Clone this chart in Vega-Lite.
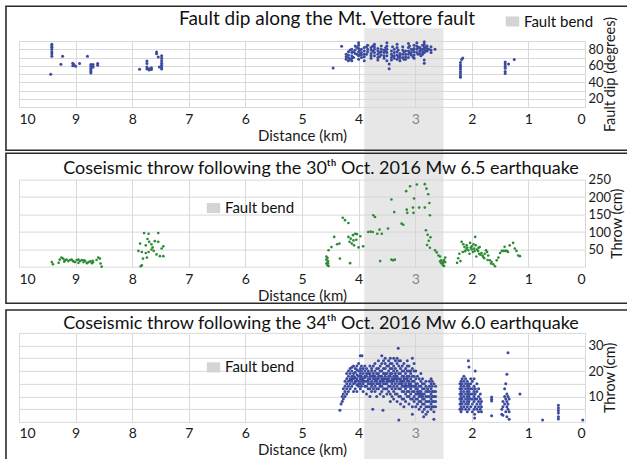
{
"$schema": "https://vega.github.io/schema/vega-lite/v6.json",
"padding": {"left": 5, "top": 5, "right": 0, "bottom": 0},
"autosize": {"type": "pad"},
"background": "white",
"config": {
  "font": "Lato",
  "view": {"stroke": null},
  "axis": {"grid": true, "gridColor": "#d9d9d9", "gridWidth": 1, "domain": false, "ticks": false, "tickSize": 0, "labelOverlap": false, "labelFont": "Lato", "labelFontSize": 14, "labelColor": "#1a1a1a", "titleFont": "Lato", "titleFontSize": 15, "titleFontWeight": "normal", "titleColor": "#1a1a1a"},
  "axisX": {"zindex": 1},
  "axisY": {"labelFontSize": 13, "titleFontSize": 14.5, "titleBaseline": "top", "titleAngle": 270, "titlePadding": 0, "labelPadding": 3},
  "title": {"font": "Lato", "fontSize": 18, "fontWeight": "normal", "color": "#111111", "frame": "group"},
  "legend": {"labelFont": "Lato", "labelFontSize": 15, "labelColor": "#111111", "symbolStrokeWidth": 0, "padding": 0, "symbolOpacity": 1}
},
"datasets": {
  "bend": [{"name": "Fault bend", "from": 3.9, "to": 2.5}],
  "dip": [
    {"d":9.42,"v":86},{"d":9.42,"v":84},{"d":9.42,"v":82.5},{"d":9.42,"v":80},{"d":9.42,"v":77},{"d":9.42,"v":74.5},{"d":9.42,"v":71.5},{"d":9.44,"v":49.6},
    {"d":9.23,"v":71.5},{"d":9.26,"v":61.8},{"d":9.05,"v":63},{"d":9.05,"v":60},{"d":9.03,"v":61.4},{"d":9.0,"v":59.5},{"d":8.93,"v":62.6},{"d":8.79,"v":71.5},
    {"d":8.73,"v":61.4},{"d":8.73,"v":59.3},{"d":8.73,"v":57},{"d":8.73,"v":55.3},{"d":8.73,"v":53},{"d":8.73,"v":51.2},{"d":8.69,"v":61.4},{"d":8.69,"v":58.5},{"d":8.61,"v":62.6},{"d":8.61,"v":60.5},
    {"d":7.87,"v":55.7},{"d":7.74,"v":65.8},{"d":7.74,"v":62.6},{"d":7.74,"v":58.5},{"d":7.74,"v":56},{"d":7.70,"v":56.5},{"d":7.70,"v":55},{"d":7.66,"v":57.5},{"d":7.66,"v":55.5},
    {"d":7.57,"v":76.7},{"d":7.57,"v":74.5},{"d":7.54,"v":70.6},{"d":7.48,"v":72},{"d":7.48,"v":69},{"d":7.48,"v":66},{"d":7.48,"v":63},{"d":7.48,"v":60.5},{"d":7.48,"v":58},{"d":7.48,"v":56},{"d":7.52,"v":58.5},
    {"d":4.45,"v":57.3},{"d":4.30,"v":83.6},{"d":4.22,"v":74},{"d":4.22,"v":71},{"d":4.22,"v":68},{"d":4.18,"v":77},{"d":4.18,"v":73},{"d":4.18,"v":70},{"d":4.18,"v":66},
    {"d":4.15,"v":79},{"d":4.15,"v":68},{"d":4.12,"v":80},{"d":4.12,"v":76},{"d":4.12,"v":72},{"d":4.12,"v":69},{"d":4.12,"v":66},{"d":4.09,"v":77},{"d":4.09,"v":70},
    {"d":4.06,"v":84},{"d":4.06,"v":79},{"d":4.06,"v":75},{"d":4.03,"v":82},{"d":4.03,"v":74},{"d":4.0,"v":88},{"d":4.0,"v":85},{"d":4.0,"v":81},{"d":4.0,"v":77},{"d":4.0,"v":72},{"d":4.0,"v":68},
    {"d":3.98,"v":79},{"d":3.98,"v":74},{"d":3.95,"v":80},{"d":3.95,"v":76},{"d":3.95,"v":73},{"d":3.95,"v":70},{"d":3.9,"v":82},{"d":3.9,"v":78},{"d":3.9,"v":74},{"d":3.9,"v":71},{"d":3.9,"v":66},
    {"d":3.86,"v":83},{"d":3.86,"v":74},{"d":3.84,"v":85},{"d":3.84,"v":80},{"d":3.84,"v":77},{"d":3.78,"v":82},{"d":3.78,"v":79},{"d":3.78,"v":75},{"d":3.78,"v":72},{"d":3.78,"v":69},
    {"d":3.75,"v":84},{"d":3.75,"v":78},{"d":3.72,"v":86},{"d":3.72,"v":83},{"d":3.72,"v":80},{"d":3.72,"v":76},{"d":3.72,"v":72},{"d":3.66,"v":81},{"d":3.66,"v":78},{"d":3.66,"v":74},{"d":3.66,"v":70},{"d":3.66,"v":67},
    {"d":3.63,"v":76},{"d":3.63,"v":71},{"d":3.6,"v":84},{"d":3.6,"v":80},{"d":3.6,"v":77},{"d":3.6,"v":73},{"d":3.55,"v":79},{"d":3.55,"v":76},{"d":3.55,"v":72},{"d":3.55,"v":69},
    {"d":3.52,"v":82},{"d":3.52,"v":78},{"d":3.5,"v":88},{"d":3.5,"v":84},{"d":3.5,"v":80},{"d":3.5,"v":76},{"d":3.5,"v":72},{"d":3.5,"v":66},{"d":3.46,"v":62},{"d":3.46,"v":56.5},
    {"d":3.42,"v":78},{"d":3.42,"v":74},{"d":3.42,"v":70},{"d":3.42,"v":67},{"d":3.4,"v":83},{"d":3.4,"v":72},{"d":3.37,"v":80},{"d":3.37,"v":76},{"d":3.37,"v":72},{"d":3.37,"v":69},
    {"d":3.32,"v":86},{"d":3.32,"v":82},{"d":3.32,"v":77},{"d":3.32,"v":73},{"d":3.32,"v":68},{"d":3.3,"v":79},{"d":3.3,"v":71},{"d":3.27,"v":75},{"d":3.27,"v":72},{"d":3.27,"v":69},{"d":3.27,"v":66},
    {"d":3.22,"v":83},{"d":3.22,"v":79},{"d":3.22,"v":74},{"d":3.22,"v":70},{"d":3.2,"v":77},{"d":3.2,"v":68},{"d":3.17,"v":78},{"d":3.17,"v":74},{"d":3.17,"v":71},{"d":3.17,"v":68},
    {"d":3.12,"v":87},{"d":3.12,"v":82},{"d":3.12,"v":78},{"d":3.12,"v":74},{"d":3.12,"v":70},{"d":3.1,"v":84},{"d":3.1,"v":76},{"d":3.07,"v":80},{"d":3.07,"v":76},{"d":3.07,"v":73},
    {"d":3.04,"v":79},{"d":3.04,"v":71},{"d":3.02,"v":85},{"d":3.02,"v":81},{"d":3.02,"v":77},{"d":3.02,"v":73},{"d":3.02,"v":69},{"d":2.97,"v":88},{"d":2.97,"v":84},{"d":2.97,"v":80},{"d":2.97,"v":76},
    {"d":2.95,"v":82},{"d":2.95,"v":74},{"d":2.92,"v":82},{"d":2.92,"v":78},{"d":2.92,"v":75},{"d":2.9,"v":80},{"d":2.9,"v":72},{"d":2.87,"v":85},{"d":2.87,"v":80},{"d":2.87,"v":77},{"d":2.87,"v":74},
    {"d":2.84,"v":89},{"d":2.84,"v":86},{"d":2.84,"v":83},{"d":2.84,"v":80},{"d":2.84,"v":76},{"d":2.84,"v":67},{"d":2.84,"v":63},{"d":2.82,"v":82},{"d":2.82,"v":78},
    {"d":2.79,"v":84},{"d":2.79,"v":81},{"d":2.79,"v":78},{"d":2.76,"v":80},{"d":2.72,"v":83},{"d":2.72,"v":79},{"d":2.72,"v":76},{"d":2.65,"v":80},
    {"d":2.16,"v":69.4},{"d":2.18,"v":67.5},{"d":2.20,"v":64},{"d":2.20,"v":61},{"d":2.20,"v":58.5},{"d":2.20,"v":56},{"d":2.20,"v":53},{"d":2.20,"v":50.5},{"d":2.20,"v":48},{"d":2.20,"v":46},
    {"d":1.41,"v":64.5},{"d":1.41,"v":62},{"d":1.41,"v":59.5},{"d":1.41,"v":57},{"d":1.41,"v":53},{"d":1.41,"v":50.5},{"d":1.35,"v":62},{"d":1.25,"v":67.5}
  ],
  "throw30": [
    {"d":9.42,"v":14},{"d":9.40,"v":8},{"d":9.28,"v":21},{"d":9.25,"v":27},{"d":9.22,"v":24},{"d":9.19,"v":19},{"d":9.16,"v":21},{"d":9.13,"v":17},{"d":9.10,"v":20},{"d":9.07,"v":21},
    {"d":9.04,"v":16},{"d":9.01,"v":14},{"d":8.98,"v":20},{"d":8.95,"v":21},{"d":8.92,"v":17},{"d":8.89,"v":20},{"d":8.86,"v":14},{"d":8.83,"v":17},{"d":8.80,"v":11},{"d":8.77,"v":14},
    {"d":8.74,"v":16},{"d":8.71,"v":11},{"d":8.69,"v":14},{"d":8.63,"v":20},{"d":8.60,"v":27},{"d":8.57,"v":24},{"d":8.56,"v":10},{"d":8.54,"v":1},{"d":9.30,"v":12},{"d":9.20,"v":15},
    {"d":9.05,"v":18},{"d":8.95,"v":12},{"d":8.85,"v":19},{"d":8.70,"v":18},
    {"d":7.79,"v":97},{"d":7.71,"v":95},{"d":7.54,"v":97},{"d":7.86,"v":67},{"d":7.76,"v":62},{"d":7.70,"v":72},{"d":7.66,"v":65},{"d":7.60,"v":74},{"d":7.54,"v":72},{"d":7.48,"v":53},
    {"d":7.45,"v":59},{"d":7.89,"v":46},{"d":7.83,"v":43},{"d":7.76,"v":40},{"d":7.71,"v":43},{"d":7.66,"v":50},{"d":7.62,"v":46},{"d":7.57,"v":36},{"d":7.51,"v":31},{"d":7.45,"v":31},
    {"d":7.81,"v":24},{"d":7.74,"v":27},{"d":7.83,"v":5},{"d":7.85,"v":2},{"d":7.73,"v":80},{"d":7.64,"v":56},
    {"d":4.57,"v":30},{"d":4.57,"v":21},{"d":4.57,"v":10},{"d":4.55,"v":13},{"d":4.55,"v":5},{"d":4.55,"v":26},{"d":4.54,"v":10},{"d":4.54,"v":17},{"d":4.53,"v":48},{"d":4.53,"v":3},
    {"d":4.48,"v":57},{"d":4.43,"v":86},{"d":4.38,"v":65},{"d":4.34,"v":67},{"d":4.33,"v":24},{"d":4.28,"v":141},{"d":4.24,"v":134},{"d":4.18,"v":126},{"d":4.15,"v":11},{"d":4.18,"v":86},
    {"d":4.14,"v":81},{"d":4.10,"v":91},{"d":4.06,"v":95},{"d":4.03,"v":94},{"d":4.16,"v":72},{"d":4.09,"v":76},{"d":4.04,"v":78},{"d":4.12,"v":67},{"d":4.08,"v":62},{"d":3.97,"v":88},
    {"d":3.92,"v":59},{"d":4.00,"v":56},{"d":3.83,"v":100},{"d":3.79,"v":101},{"d":3.75,"v":100},{"d":3.74,"v":148},{"d":3.71,"v":143},{"d":3.67,"v":95},{"d":3.63,"v":107},{"d":3.59,"v":95},
    {"d":3.48,"v":110},{"d":3.42,"v":193},{"d":3.42,"v":21},{"d":3.39,"v":19},{"d":3.36,"v":21},{"d":3.62,"v":17},{"d":3.37,"v":157},{"d":3.24,"v":124},{"d":3.21,"v":121},{"d":3.16,"v":217},
    {"d":3.15,"v":164},{"d":3.14,"v":155},{"d":3.09,"v":231},{"d":3.04,"v":170},{"d":3.03,"v":155},{"d":3.02,"v":196},{"d":2.97,"v":236},{"d":2.93,"v":170},{"d":2.83,"v":237},{"d":2.83,"v":170},
    {"d":2.80,"v":224},{"d":2.77,"v":208},{"d":2.75,"v":183},{"d":2.74,"v":148},{"d":2.81,"v":105},{"d":2.78,"v":92},{"d":2.73,"v":85},{"d":2.76,"v":75},{"d":2.79,"v":63},{"d":2.74,"v":55},
    {"d":2.65,"v":48},{"d":2.62,"v":42},{"d":2.59,"v":33},{"d":2.56,"v":30},{"d":2.56,"v":16},{"d":2.54,"v":19},{"d":2.54,"v":11},{"d":2.51,"v":14},{"d":2.51,"v":10},{"d":2.51,"v":5},
    {"d":2.49,"v":20},{"d":2.49,"v":3},{"d":2.47,"v":27},{"d":2.47,"v":14},
    {"d":2.22,"v":38},{"d":2.20,"v":17},{"d":2.18,"v":72},{"d":2.16,"v":43},{"d":2.15,"v":65},{"d":2.13,"v":57},{"d":2.10,"v":50},{"d":2.09,"v":62},{"d":2.06,"v":48},{"d":2.03,"v":69},
    {"d":2.02,"v":55},{"d":2.00,"v":59},{"d":1.98,"v":43},{"d":1.96,"v":53},{"d":1.94,"v":86},{"d":1.93,"v":62},{"d":1.91,"v":50},{"d":1.89,"v":46},{"d":1.87,"v":38},{"d":1.86,"v":57},
    {"d":1.83,"v":40},{"d":1.81,"v":33},{"d":1.80,"v":29},{"d":1.77,"v":38},{"d":1.75,"v":48},{"d":1.73,"v":43},{"d":1.71,"v":33},{"d":1.68,"v":19},{"d":1.65,"v":14},{"d":1.62,"v":8},
    {"d":1.59,"v":2},{"d":1.56,"v":19},{"d":1.53,"v":27},{"d":1.50,"v":40},{"d":1.47,"v":46},{"d":1.44,"v":46},{"d":1.41,"v":46},{"d":1.38,"v":46},{"d":1.36,"v":43},{"d":1.33,"v":62},
    {"d":1.42,"v":58},{"d":1.27,"v":69},{"d":1.24,"v":53},{"d":1.21,"v":46},{"d":1.18,"v":33},{"d":1.15,"v":31},
    {"d":2.12,"v":45},{"d":2.08,"v":55},{"d":2.04,"v":38},{"d":2.00,"v":50},{"d":1.97,"v":65},{"d":1.95,"v":46},{"d":1.92,"v":30},{"d":1.88,"v":55},{"d":1.85,"v":35},{"d":1.78,"v":25},
    {"d":1.72,"v":20},{"d":1.66,"v":10},{"d":2.24,"v":25},{"d":2.26,"v":12}
  ],
  "throw24": [
    {"d":4.33,"v":4.6},{"d":4.31,"v":7},{"d":4.29,"v":8},{"d":4.29,"v":10},{"d":4.27,"v":9},{"d":4.27,"v":11},{"d":4.27,"v":13},
    {"d":4.24,"v":10},{"d":4.24,"v":12},{"d":4.24,"v":14},{"d":4.24,"v":16},
    {"d":4.21,"v":11},{"d":4.21,"v":13},{"d":4.21,"v":15},{"d":4.21,"v":17},{"d":4.21,"v":19},
    {"d":4.18,"v":12},{"d":4.18,"v":14},{"d":4.18,"v":16},{"d":4.18,"v":18},{"d":4.18,"v":20},
    {"d":4.15,"v":13},{"d":4.15,"v":15},{"d":4.15,"v":17},{"d":4.15,"v":19},{"d":4.15,"v":21},{"d":4.15,"v":16.5},
    {"d":4.12,"v":14},{"d":4.12,"v":16},{"d":4.12,"v":18},{"d":4.12,"v":20},{"d":4.12,"v":21.5},{"d":4.12,"v":17},
    {"d":4.09,"v":12},{"d":4.09,"v":15},{"d":4.09,"v":17},{"d":4.09,"v":19},{"d":4.09,"v":22},{"d":4.09,"v":18},
    {"d":4.06,"v":13},{"d":4.06,"v":15.5},{"d":4.06,"v":17.5},{"d":4.06,"v":19.5},{"d":4.06,"v":21},{"d":4.06,"v":16},
    {"d":4.03,"v":12},{"d":4.03,"v":14.5},{"d":4.03,"v":16.5},{"d":4.03,"v":18.5},{"d":4.03,"v":20.5},{"d":4.03,"v":22},{"d":4.03,"v":17},
    {"d":4.00,"v":14},{"d":4.00,"v":16},{"d":4.00,"v":18},{"d":4.00,"v":20},{"d":4.00,"v":23},{"d":4.00,"v":15},
    {"d":3.97,"v":13},{"d":3.97,"v":15},{"d":3.97,"v":17},{"d":3.97,"v":19},{"d":3.97,"v":21},{"d":3.97,"v":26},{"d":3.97,"v":18},
    {"d":3.95,"v":14},{"d":3.95,"v":16},{"d":3.95,"v":18},{"d":3.95,"v":20},{"d":3.95,"v":22},{"d":3.94,"v":26},{"d":3.95,"v":17},
    {"d":3.92,"v":12},{"d":3.92,"v":15},{"d":3.92,"v":17},{"d":3.92,"v":19},{"d":3.92,"v":21},{"d":3.92,"v":16},
    {"d":3.89,"v":14},{"d":3.89,"v":16},{"d":3.89,"v":18},{"d":3.89,"v":20},{"d":3.89,"v":22},{"d":3.89,"v":17.5},
    {"d":3.86,"v":11},{"d":3.86,"v":14},{"d":3.86,"v":16},{"d":3.86,"v":18},{"d":3.86,"v":21},{"d":3.86,"v":19},
    {"d":3.83,"v":13},{"d":3.83,"v":15},{"d":3.83,"v":17},{"d":3.83,"v":19},{"d":3.83,"v":20},{"d":3.83,"v":16},
    {"d":3.80,"v":10},{"d":3.80,"v":13},{"d":3.80,"v":15},{"d":3.80,"v":17},{"d":3.80,"v":19},{"d":3.80,"v":22},{"d":3.80,"v":18},
    {"d":3.77,"v":12},{"d":3.77,"v":14},{"d":3.77,"v":16},{"d":3.77,"v":18},{"d":3.77,"v":20},{"d":3.77,"v":21},{"d":3.77,"v":15},{"d":3.75,"v":5},
    {"d":3.74,"v":13},{"d":3.74,"v":15},{"d":3.74,"v":17},{"d":3.74,"v":19},{"d":3.74,"v":22},{"d":3.74,"v":18},
    {"d":3.71,"v":12},{"d":3.71,"v":14},{"d":3.71,"v":16},{"d":3.71,"v":18},{"d":3.71,"v":20},{"d":3.71,"v":23},{"d":3.71,"v":17},
    {"d":3.68,"v":10},{"d":3.68,"v":13},{"d":3.68,"v":15},{"d":3.68,"v":17},{"d":3.68,"v":19},{"d":3.68,"v":21},{"d":3.68,"v":16},
    {"d":3.65,"v":13},{"d":3.65,"v":15},{"d":3.65,"v":17},{"d":3.65,"v":19},{"d":3.65,"v":21},{"d":3.65,"v":24},{"d":3.65,"v":18},
    {"d":3.62,"v":11},{"d":3.62,"v":14},{"d":3.62,"v":16},{"d":3.62,"v":18},{"d":3.62,"v":20},{"d":3.62,"v":22},{"d":3.62,"v":15},
    {"d":3.59,"v":12},{"d":3.59,"v":14},{"d":3.59,"v":16},{"d":3.59,"v":18},{"d":3.59,"v":20},{"d":3.59,"v":23},{"d":3.59,"v":26},{"d":3.59,"v":17},
    {"d":3.56,"v":10},{"d":3.56,"v":13},{"d":3.56,"v":15},{"d":3.56,"v":17},{"d":3.56,"v":19},{"d":3.56,"v":21},{"d":3.56,"v":24},{"d":3.56,"v":16},{"d":3.57,"v":4.6},
    {"d":3.53,"v":13},{"d":3.53,"v":15},{"d":3.53,"v":17},{"d":3.53,"v":19},{"d":3.53,"v":21},{"d":3.53,"v":23},{"d":3.53,"v":25},{"d":3.53,"v":18},
    {"d":3.50,"v":11},{"d":3.50,"v":13},{"d":3.50,"v":15},{"d":3.50,"v":17},{"d":3.50,"v":19},{"d":3.50,"v":22},{"d":3.50,"v":16},
    {"d":3.47,"v":12},{"d":3.47,"v":14},{"d":3.47,"v":16},{"d":3.47,"v":18},{"d":3.47,"v":20},{"d":3.47,"v":22},{"d":3.47,"v":24},{"d":3.47,"v":17},
    {"d":3.44,"v":8},{"d":3.44,"v":11},{"d":3.44,"v":14},{"d":3.44,"v":16},{"d":3.44,"v":18},{"d":3.44,"v":21},{"d":3.44,"v":23},{"d":3.44,"v":25},{"d":3.44,"v":19},
    {"d":3.41,"v":10},{"d":3.41,"v":13},{"d":3.41,"v":15},{"d":3.41,"v":17},{"d":3.41,"v":19},{"d":3.41,"v":21},{"d":3.41,"v":23},{"d":3.41,"v":16},
    {"d":3.38,"v":9},{"d":3.38,"v":12},{"d":3.38,"v":14},{"d":3.38,"v":16},{"d":3.38,"v":18},{"d":3.38,"v":20},{"d":3.38,"v":22},{"d":3.38,"v":25},{"d":3.38,"v":17},
    {"d":3.35,"v":11},{"d":3.35,"v":13},{"d":3.35,"v":15},{"d":3.35,"v":17},{"d":3.35,"v":19},{"d":3.35,"v":21},{"d":3.35,"v":24},{"d":3.35,"v":18},
    {"d":3.32,"v":8},{"d":3.32,"v":11},{"d":3.32,"v":14},{"d":3.32,"v":16},{"d":3.32,"v":18},{"d":3.32,"v":20},{"d":3.32,"v":23},{"d":3.32,"v":25},{"d":3.32,"v":17},
    {"d":3.30,"v":29},{"d":3.29,"v":10},{"d":3.29,"v":13},{"d":3.29,"v":15},{"d":3.29,"v":17},{"d":3.29,"v":19},{"d":3.29,"v":22},{"d":3.29,"v":24},{"d":3.29,"v":0.7},
    {"d":3.26,"v":7},{"d":3.26,"v":10},{"d":3.26,"v":13},{"d":3.26,"v":15},{"d":3.26,"v":17},{"d":3.26,"v":19},{"d":3.26,"v":21},{"d":3.26,"v":24},{"d":3.26,"v":16},
    {"d":3.23,"v":9},{"d":3.23,"v":12},{"d":3.23,"v":14},{"d":3.23,"v":16},{"d":3.23,"v":18},{"d":3.23,"v":20},{"d":3.23,"v":22},{"d":3.23,"v":15},
    {"d":3.20,"v":6},{"d":3.20,"v":9},{"d":3.20,"v":12},{"d":3.20,"v":14},{"d":3.20,"v":16},{"d":3.20,"v":18},{"d":3.20,"v":20},{"d":3.20,"v":23},{"d":3.20,"v":17},
    {"d":3.17,"v":8},{"d":3.17,"v":11},{"d":3.17,"v":13},{"d":3.17,"v":15},{"d":3.17,"v":17},{"d":3.17,"v":19},{"d":3.17,"v":21},{"d":3.17,"v":14},
    {"d":3.14,"v":10},{"d":3.14,"v":12},{"d":3.14,"v":14},{"d":3.14,"v":16},{"d":3.14,"v":18},{"d":3.14,"v":20},{"d":3.14,"v":22},{"d":3.14,"v":24},{"d":3.14,"v":17},
    {"d":3.11,"v":7},{"d":3.11,"v":10},{"d":3.11,"v":12},{"d":3.11,"v":14},{"d":3.11,"v":16},{"d":3.11,"v":18},{"d":3.11,"v":20},{"d":3.11,"v":22},{"d":3.11,"v":15},
    {"d":3.08,"v":9},{"d":3.08,"v":11},{"d":3.08,"v":13},{"d":3.08,"v":15},{"d":3.08,"v":17},{"d":3.08,"v":19},{"d":3.08,"v":20},{"d":3.08,"v":14},
    {"d":3.05,"v":6},{"d":3.05,"v":9},{"d":3.05,"v":12},{"d":3.05,"v":14},{"d":3.05,"v":16},{"d":3.05,"v":18},{"d":3.05,"v":21},{"d":3.05,"v":25},{"d":3.05,"v":3},
    {"d":3.02,"v":8},{"d":3.02,"v":10},{"d":3.02,"v":12},{"d":3.02,"v":14},{"d":3.02,"v":16},{"d":3.02,"v":18},{"d":3.02,"v":20},{"d":3.02,"v":23},
    {"d":2.99,"v":6},{"d":2.99,"v":9},{"d":2.99,"v":11},{"d":2.99,"v":13},{"d":2.99,"v":15},{"d":2.99,"v":17},{"d":2.99,"v":20},{"d":2.99,"v":14},
    {"d":2.96,"v":7},{"d":2.96,"v":9},{"d":2.96,"v":11},{"d":2.96,"v":13},{"d":2.96,"v":15},{"d":2.96,"v":18},{"d":2.96,"v":12},
    {"d":2.93,"v":5},{"d":2.93,"v":8},{"d":2.93,"v":10},{"d":2.93,"v":12},{"d":2.93,"v":14},{"d":2.93,"v":17},{"d":2.93,"v":11},
    {"d":2.90,"v":6},{"d":2.90,"v":8},{"d":2.90,"v":10},{"d":2.90,"v":12},{"d":2.90,"v":14},{"d":2.90,"v":16},{"d":2.90,"v":19},{"d":2.90,"v":11},
    {"d":2.87,"v":4},{"d":2.87,"v":7},{"d":2.87,"v":9},{"d":2.87,"v":11},{"d":2.87,"v":13},{"d":2.87,"v":15},{"d":2.87,"v":17},{"d":2.87,"v":10},
    {"d":2.84,"v":5},{"d":2.84,"v":7},{"d":2.84,"v":9},{"d":2.84,"v":11},{"d":2.84,"v":13},{"d":2.84,"v":15},{"d":2.85,"v":2},
    {"d":2.81,"v":3},{"d":2.81,"v":6},{"d":2.81,"v":8},{"d":2.81,"v":10},{"d":2.81,"v":12},{"d":2.81,"v":14},{"d":2.81,"v":16},
    {"d":2.78,"v":4},{"d":2.78,"v":6},{"d":2.78,"v":8},{"d":2.78,"v":10},{"d":2.78,"v":12},{"d":2.78,"v":13},
    {"d":2.75,"v":6},{"d":2.75,"v":8},{"d":2.75,"v":10},{"d":2.75,"v":12},{"d":2.75,"v":14},{"d":2.75,"v":16},
    {"d":2.72,"v":5},{"d":2.72,"v":7},{"d":2.72,"v":9},{"d":2.72,"v":11},{"d":2.72,"v":13},{"d":2.72,"v":15},{"d":2.72,"v":17},
    {"d":2.70,"v":6},{"d":2.70,"v":8},{"d":2.70,"v":10},{"d":2.70,"v":12},{"d":2.70,"v":14},{"d":2.70,"v":16},
    {"d":2.67,"v":4},{"d":2.67,"v":6},{"d":2.67,"v":8},{"d":2.67,"v":10},{"d":2.67,"v":12},{"d":2.67,"v":15},{"d":2.67,"v":1},
    {"d":2.64,"v":6},{"d":2.64,"v":8},{"d":2.64,"v":10},{"d":2.64,"v":12},{"d":2.64,"v":14},
    {"d":2.21,"v":5},{"d":2.21,"v":7},{"d":2.21,"v":9},{"d":2.21,"v":11},{"d":2.21,"v":13},{"d":2.21,"v":15},
    {"d":2.19,"v":4},{"d":2.19,"v":6},{"d":2.19,"v":8},{"d":2.19,"v":10},{"d":2.19,"v":12},{"d":2.19,"v":14},{"d":2.19,"v":16},
    {"d":2.17,"v":5},{"d":2.17,"v":7},{"d":2.17,"v":9},{"d":2.17,"v":11},{"d":2.17,"v":13},{"d":2.17,"v":15},{"d":2.17,"v":17},
    {"d":2.14,"v":6},{"d":2.14,"v":8},{"d":2.14,"v":10},{"d":2.14,"v":12},{"d":2.14,"v":14},{"d":2.14,"v":16},{"d":2.14,"v":18},
    {"d":2.11,"v":5},{"d":2.11,"v":7},{"d":2.11,"v":9},{"d":2.11,"v":11},{"d":2.11,"v":13},{"d":2.11,"v":15},{"d":2.11,"v":17},
    {"d":2.08,"v":4},{"d":2.08,"v":6},{"d":2.08,"v":8},{"d":2.08,"v":10},{"d":2.08,"v":12},{"d":2.08,"v":14},{"d":2.08,"v":16},
    {"d":2.06,"v":24},{"d":2.06,"v":7},{"d":2.06,"v":9},{"d":2.06,"v":11},{"d":2.06,"v":13},{"d":2.06,"v":15},
    {"d":2.05,"v":21.6},{"d":2.05,"v":5},{"d":2.05,"v":8},{"d":2.05,"v":10},{"d":2.05,"v":12},{"d":2.05,"v":14},
    {"d":2.02,"v":6},{"d":2.02,"v":9},{"d":2.02,"v":11},{"d":2.02,"v":13},{"d":2.02,"v":15},{"d":2.02,"v":17},
    {"d":1.99,"v":4},{"d":1.99,"v":7},{"d":1.99,"v":9},{"d":1.99,"v":11},{"d":1.99,"v":13},{"d":1.99,"v":16},
    {"d":1.96,"v":17},{"d":1.96,"v":5},{"d":1.96,"v":8},{"d":1.96,"v":10},{"d":1.96,"v":12},{"d":1.96,"v":14},{"d":1.95,"v":1.5},{"d":1.95,"v":3},
    {"d":1.94,"v":20},{"d":1.94,"v":6},{"d":1.94,"v":9},{"d":1.94,"v":11},{"d":1.94,"v":13},
    {"d":1.91,"v":5},{"d":1.91,"v":7},{"d":1.91,"v":9},{"d":1.91,"v":12},{"d":1.91,"v":15},
    {"d":1.88,"v":4},{"d":1.88,"v":6},{"d":1.88,"v":8},{"d":1.88,"v":10},{"d":1.88,"v":13},
    {"d":1.85,"v":5},{"d":1.85,"v":7},{"d":1.85,"v":9},{"d":1.85,"v":11},{"d":1.83,"v":4},{"d":1.83,"v":6},{"d":1.83,"v":8},
    {"d":1.65,"v":9.8},{"d":1.65,"v":8.9},{"d":1.65,"v":8.2},{"d":1.65,"v":2.4},
    {"d":1.47,"v":5},{"d":1.47,"v":3},{"d":1.45,"v":8},{"d":1.45,"v":6},{"d":1.45,"v":2.6},{"d":1.42,"v":13},{"d":1.42,"v":10},{"d":1.42,"v":7},
    {"d":1.40,"v":15},{"d":1.40,"v":9},{"d":1.40,"v":4},{"d":1.38,"v":18.7},{"d":1.38,"v":11},{"d":1.38,"v":8},{"d":1.38,"v":6},{"d":1.38,"v":2},
    {"d":1.36,"v":27.2},{"d":1.36,"v":10},{"d":1.36,"v":7},{"d":1.36,"v":5},{"d":1.34,"v":9},{"d":1.34,"v":4},{"d":1.34,"v":1},
    {"d":1.15,"v":11},{"d":0.75,"v":0.7},{"d":0.47,"v":6.5},{"d":0.47,"v":5.5},{"d":0.47,"v":4.5},{"d":0.47,"v":3.5},{"d":0.47,"v":2},{"d":0.47,"v":1.1},{"d":0.04,"v":0.7}
  ]
},
"spacing": 72.6,
"bounds": "flush",
"resolve": {"scale": {"color": "independent"}, "legend": {"color": "independent"}},
"vconcat": [
  {
    "width": 566, "height": 66,
    "title": {"text": "Fault dip along the Mt. Vettore fault", "fontSize": 19, "offset": -24, "dx": 25},
    "layer": [
      {"data": {"name": "bend"}, "mark": {"type": "rect", "clip": false, "fillOpacity": 0.55},
       "encoding": {
         "x": {"field": "from", "type": "quantitative", "scale": {"domain": [0, 10], "reverse": true, "nice": false, "zero": false}, "axis": {"title": "Distance (km)", "values": [0,1,2,3,4,5,6,7,8,9,10], "format": "d", "labelPadding": 5, "titlePadding": 2}},
         "x2": {"field": "to"},
         "y": {"datum": 105.4, "type": "quantitative", "scale": {"domain": [10, 90], "nice": false, "zero": false}, "axis": {"title": "Fault dip (degrees)", "orient": "right", "values": [10,20,30,40,50,60,70,80,90], "format": "d", "labelExpr": "datum.value % 20 == 0 ? datum.label : ''"}},
         "y2": {"datum": -44.9},
         "color": {"field": "name", "type": "nominal", "scale": {"range": ["#d4d4d4"]},
           "legend": {"title": null, "orient": "none", "legendX": 486, "legendY": -27, "symbolType": "M-1,-0.75L1,-0.75L1,0.75L-1,0.75Z", "symbolSize": 180}}
       }},
      {"data": {"name": "dip"}, "mark": {"type": "circle", "size": 9, "color": "#3b4a9e", "opacity": 1},
       "encoding": {
         "x": {"field": "d", "type": "quantitative", "scale": {"domain": [0, 10], "reverse": true, "nice": false, "zero": false}, "axis": {"title": "Distance (km)", "values": [0,1,2,3,4,5,6,7,8,9,10], "format": "d", "labelPadding": 5, "titlePadding": 2}},
         "y": {"field": "v", "type": "quantitative", "scale": {"domain": [10, 90], "nice": false, "zero": false}, "axis": {"title": "Fault dip (degrees)", "orient": "right", "values": [10,20,30,40,50,60,70,80,90], "format": "d", "labelExpr": "datum.value % 20 == 0 ? datum.label : ''"}}
       }},
      {"data": {"values": [{}]}, "mark": {"type": "rect", "clip": false, "filled": false, "color": "#2b2b2b", "strokeWidth": 1.6},
       "encoding": {
         "x": {"datum": 10.23, "type": "quantitative", "scale": {"domain": [0, 10], "reverse": true, "nice": false, "zero": false}, "axis": {"title": "Distance (km)", "values": [0,1,2,3,4,5,6,7,8,9,10], "format": "d", "labelPadding": 5, "titlePadding": 2}},
         "x2": {"datum": -1},
         "y": {"datum": 132.1, "type": "quantitative", "scale": {"domain": [10, 90], "nice": false, "zero": false}, "axis": {"title": "Fault dip (degrees)", "orient": "right", "values": [10,20,30,40,50,60,70,80,90], "format": "d", "labelExpr": "datum.value % 20 == 0 ? datum.label : ''"}},
         "y2": {"datum": -42.5}}}
    ]
  },
  {
    "spacing": 65.3,
    "bounds": "flush",
    "resolve": {"scale": {"color": "independent"}, "legend": {"color": "independent"}},
    "vconcat": [
      {
        "width": 566, "height": 87.4,
        "title": {"text": "Coseismic throw following the 30ᵗʰ Oct. 2016 Mw 6.5 earthquake", "offset": -25, "dx": 19},
        "layer": [
          {"data": {"name": "bend"}, "mark": {"type": "rect", "clip": false, "fillOpacity": 0.55},
           "encoding": {
             "x": {"field": "from", "type": "quantitative", "scale": {"domain": [0, 10], "reverse": true, "nice": false, "zero": false}, "axis": {"title": "Distance (km)", "values": [0,1,2,3,4,5,6,7,8,9,10], "format": "d", "labelPadding": 5, "titlePadding": 2}},
             "x2": {"field": "to"},
             "y": {"datum": 325.2, "type": "quantitative", "scale": {"domain": [0, 250], "nice": false}, "axis": {"title": "Throw (cm)", "orient": "right", "values": [0,50,100,150,200,250], "format": "d", "labelExpr": "datum.value == 0 ? '' : datum.label"}},
             "y2": {"datum": -121},
             "color": {"field": "name", "type": "nominal", "scale": {"range": ["#d4d4d4"]},
               "legend": {"title": null, "orient": "none", "legendX": 187, "legendY": 21, "symbolType": "M-1,-0.75L1,-0.75L1,0.75L-1,0.75Z", "symbolSize": 180}}
           }},
          {"data": {"name": "throw30"}, "mark": {"type": "circle", "size": 7, "color": "#2e8b35", "opacity": 1},
           "encoding": {
             "x": {"field": "d", "type": "quantitative", "scale": {"domain": [0, 10], "reverse": true, "nice": false, "zero": false}, "axis": {"title": "Distance (km)", "values": [0,1,2,3,4,5,6,7,8,9,10], "format": "d", "labelPadding": 5, "titlePadding": 2}},
             "y": {"field": "v", "type": "quantitative", "scale": {"domain": [0, 250], "nice": false}, "axis": {"title": "Throw (cm)", "orient": "right", "values": [0,50,100,150,200,250], "format": "d", "labelExpr": "datum.value == 0 ? '' : datum.label"}}
           }},
          {"data": {"values": [{}]}, "mark": {"type": "rect", "clip": false, "filled": false, "color": "#2b2b2b", "strokeWidth": 1.6},
           "encoding": {
             "x": {"datum": 10.23, "type": "quantitative", "scale": {"domain": [0, 10], "reverse": true, "nice": false, "zero": false}, "axis": {"title": "Distance (km)", "values": [0,1,2,3,4,5,6,7,8,9,10], "format": "d", "labelPadding": 5, "titlePadding": 2}},
             "x2": {"datum": -1},
             "y": {"datum": 325.2, "type": "quantitative", "scale": {"domain": [0, 250], "nice": false}, "axis": {"title": "Throw (cm)", "orient": "right", "values": [0,50,100,150,200,250], "format": "d", "labelExpr": "datum.value == 0 ? '' : datum.label"}},
             "y2": {"datum": -103.8}}}
        ]
      },
      {
        "width": 566, "height": 89,
        "title": {"text": "Coseismic throw following the 34ᵗʰ Oct. 2016 Mw 6.0 earthquake", "offset": -24, "dx": 19},
        "layer": [
          {"data": {"name": "bend"}, "mark": {"type": "rect", "clip": false, "fillOpacity": 0.55},
           "encoding": {
             "x": {"field": "from", "type": "quantitative", "scale": {"domain": [0, 10], "reverse": true, "nice": false, "zero": false}, "axis": {"title": "Distance (km)", "values": [0,1,2,3,4,5,6,7,8,9,10], "format": "d", "labelPadding": 5, "titlePadding": 2}},
             "x2": {"field": "to"},
             "y": {"datum": 44, "type": "quantitative", "scale": {"domain": [0, 35], "nice": false}, "axis": {"title": "Throw (cm)", "orient": "right", "values": [0,5,10,15,20,25,30,35], "format": "d", "labelExpr": "datum.value % 10 == 0 && datum.value > 0 ? datum.label : ''"}},
             "y2": {"datum": -16.1},
             "color": {"field": "name", "type": "nominal", "scale": {"range": ["#d4d4d4"]},
               "legend": {"title": null, "orient": "none", "legendX": 187, "legendY": 27, "symbolType": "M-1,-0.75L1,-0.75L1,0.75L-1,0.75Z", "symbolSize": 180}}
           }},
          {"data": {"name": "throw24"}, "mark": {"type": "circle", "size": 9, "color": "#3b4a9e", "opacity": 1},
           "encoding": {
             "x": {"field": "d", "type": "quantitative", "scale": {"domain": [0, 10], "reverse": true, "nice": false, "zero": false}, "axis": {"title": "Distance (km)", "values": [0,1,2,3,4,5,6,7,8,9,10], "format": "d", "labelPadding": 5, "titlePadding": 2}},
             "y": {"field": "v", "type": "quantitative", "scale": {"domain": [0, 35], "nice": false}, "axis": {"title": "Throw (cm)", "orient": "right", "values": [0,5,10,15,20,25,30,35], "format": "d", "labelExpr": "datum.value % 10 == 0 && datum.value > 0 ? datum.label : ''"}}
           }},
          {"data": {"values": [{}]}, "mark": {"type": "rect", "clip": false, "filled": false, "color": "#2b2b2b", "strokeWidth": 1.6},
           "encoding": {
             "x": {"datum": 10.23, "type": "quantitative", "scale": {"domain": [0, 10], "reverse": true, "nice": false, "zero": false}, "axis": {"title": "Distance (km)", "values": [0,1,2,3,4,5,6,7,8,9,10], "format": "d", "labelPadding": 5, "titlePadding": 2}},
             "x2": {"datum": -1},
             "y": {"datum": 44, "type": "quantitative", "scale": {"domain": [0, 35], "nice": false}, "axis": {"title": "Throw (cm)", "orient": "right", "values": [0,5,10,15,20,25,30,35], "format": "d", "labelExpr": "datum.value % 10 == 0 && datum.value > 0 ? datum.label : ''"}},
             "y2": {"datum": -16.1}}}
        ]
      }
    ]
  }
]
}
